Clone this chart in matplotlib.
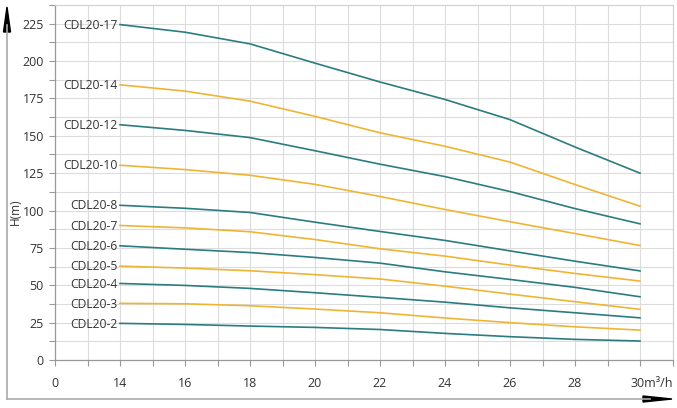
import numpy as np
import matplotlib
matplotlib.use("Agg")
import matplotlib.pyplot as plt
from matplotlib.lines import Line2D
from matplotlib.patches import Polygon
import matplotlib.transforms as mtransforms

plt.rcParams['font.family'] = ['Open Sans', 'DejaVu Sans']

# flow (m3/h) where the curves are read
flow = [14, 16, 18, 20, 22, 24, 26, 28, 30]

h_17 = [224.4, 219.3, 211.5, 198.6, 186.0, 174.3, 160.8, 142.5, 125.0]
h_14 = [184.1, 179.9, 173.2, 163.0, 152.0, 143.0, 132.4, 117.4, 102.9]
h_12 = [157.4, 153.6, 148.8, 140.0, 131.0, 122.7, 112.7, 101.3, 91.1]
h_10 = [130.3, 127.4, 123.6, 117.5, 109.4, 100.7, 92.5, 84.6, 76.6]
h_8 = [103.5, 101.5, 98.7, 92.2, 86.0, 80.0, 73.0, 66.1, 59.6]
h_7 = [90.0, 88.4, 85.8, 80.6, 74.4, 69.5, 63.5, 57.9, 52.8]
h_6 = [76.4, 74.1, 71.9, 68.6, 64.8, 59.0, 53.9, 48.6, 42.3]
h_5 = [62.8, 61.5, 59.7, 57.1, 54.2, 49.4, 44.1, 39.0, 33.9]
h_4 = [51.2, 49.9, 47.9, 45.0, 41.9, 38.7, 34.9, 31.6, 28.2]
h_3 = [37.9, 37.6, 36.3, 34.1, 31.6, 28.1, 25.0, 22.2, 20.0]
h_2 = [24.5, 23.8, 22.7, 21.8, 20.4, 17.8, 15.6, 13.8, 12.7]

names = ['CDL20-17', 'CDL20-14', 'CDL20-12', 'CDL20-10', 'CDL20-8', 'CDL20-7',
         'CDL20-6', 'CDL20-5', 'CDL20-4', 'CDL20-3', 'CDL20-2']
heads = [h_17, h_14, h_12, h_10, h_8, h_7, h_6, h_5, h_4, h_3, h_2]

x_ticklabels = ['0', '14', '16', '18', '20', '22', '24', '26', '28', '30m³/h']
y_ticks = [0, 25, 50, 75, 100, 125, 150, 175, 200, 225]

teal = '#2b7c80'
gold = '#eeb534'
colors = [teal, gold, teal, gold, teal, gold, teal, gold, teal, gold, teal]


def to_pos(q):
    # x axis is broken: 0 then 14..30, evenly spaced
    q = np.asarray(q, dtype=float)
    return np.where(q >= 14, q - 12, q)


fig = plt.figure(figsize=(6.77, 4.08), dpi=100)
W, H = 677, 408
ax = fig.add_axes([55 / W, 1 - 360 / H, (672.5 - 55) / W, (360 - 5) / H])

for name, h, c in zip(names, heads, colors):
    xp = to_pos(flow)
    ax.plot(xp, h, color=c, linewidth=1.2, zorder=3)
    ax.annotate(name, xy=(xp[0], h[0]), xytext=(-2, -0.5), textcoords='offset points',
                ha='right', va='center', fontsize=8.7, color='#333333')

ax.set_xlim(0, 19)
ax.set_ylim(0, 237.5)

ax.set_xticks(to_pos([0] + flow))
ax.set_xticklabels(x_ticklabels)
ax.set_xticks(np.arange(0, 20, 1), minor=True)
ax.set_yticks(y_ticks)
ax.set_yticks(np.arange(0, 237.6, 12.5), minor=True)

ax.grid(True, which='both', color='#dcdcdc', linewidth=0.8, zorder=0)
ax.set_axisbelow(True)

ax.tick_params(which='both', direction='out', color='#999999', length=4, width=0.8,
               labelsize=9, labelcolor='#333333')
ax.tick_params(axis='x', pad=8)
ax.tick_params(axis='y', pad=4)
for s in ['top', 'right']:
    ax.spines[s].set_color('#d0d0d0')
for s in ['left', 'bottom']:
    ax.spines[s].set_color('#999999')
    ax.spines[s].set_linewidth(0.9)

# last label starts at the tick
last = ax.get_xticklabels()[-1]
last.set_horizontalalignment('left')
last.set_transform(last.get_transform() + mtransforms.ScaledTranslation(-7 / 72, 0, fig.dpi_scale_trans))

fig.text(15 / W, 1 - 212 / H, 'H(m)', rotation=90, ha='center', va='center',
         fontsize=8.5, color='#333333')

# outer arrows
fig.add_artist(Line2D([7 / W, 7 / W], [1 - 399 / H, 1 - 25 / H], color='#aaaaaa', linewidth=1.2,
                      transform=fig.transFigure))
fig.add_artist(Line2D([7 / W, 650 / W], [1 - 399 / H, 1 - 399 / H], color='#aaaaaa', linewidth=1.2,
                      transform=fig.transFigure))
fig.add_artist(Polygon([[3.5 / W, 1 - 32 / H], [10.5 / W, 1 - 32 / H], [7 / W, 1 - 7 / H]],
                       closed=True, color='black', transform=fig.transFigure))
fig.add_artist(Polygon([[643 / W, 1 - 396 / H], [643 / W, 1 - 402 / H], [672 / W, 1 - 399 / H]],
                       closed=True, color='black', transform=fig.transFigure))

fig.savefig('out.png', dpi=100)
